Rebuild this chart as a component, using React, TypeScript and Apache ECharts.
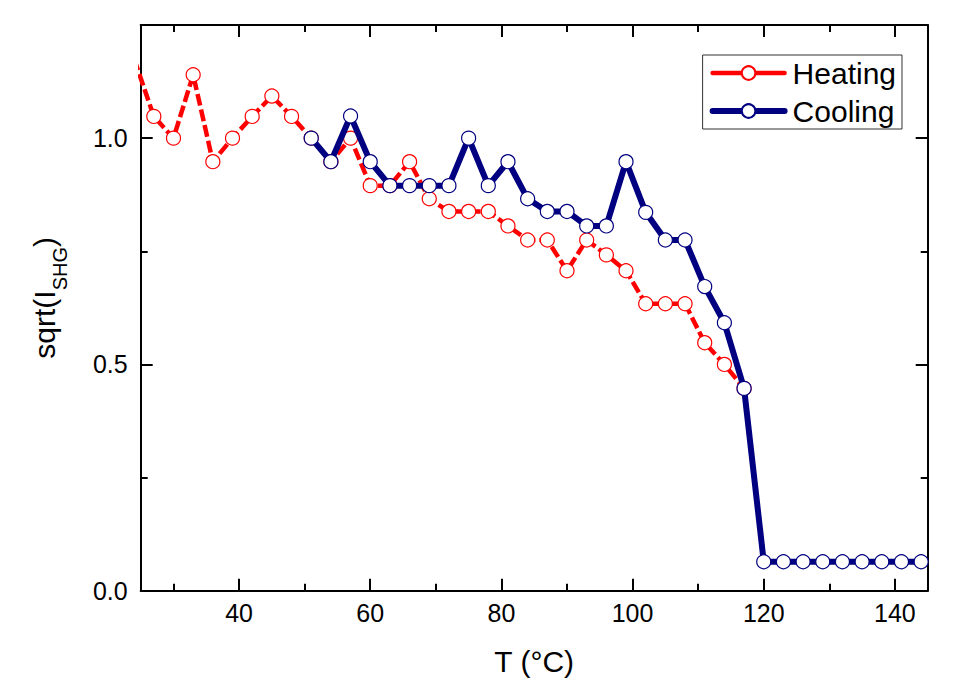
import React, { useEffect, useRef } from 'react';
import * as echarts from 'echarts';

const heatingT = [24, 27, 30, 33, 36, 39, 42, 45, 48, 51, 54, 57, 60, 63, 66, 69, 72, 75, 78, 81, 84, 87, 90, 93, 96, 99, 102, 105, 108, 111, 114, 117];
const heatingV = [1.175, 1.048, 1.0, 1.14, 0.948, 1.0, 1.048, 1.093, 1.048, 1.0, 0.948, 1.0, 0.895, 0.895, 0.948, 0.866, 0.838, 0.838, 0.838, 0.806, 0.775, 0.775, 0.707, 0.775, 0.742, 0.707, 0.634, 0.634, 0.634, 0.548, 0.5, 0.447];

const coolingT = [51, 54, 57, 60, 63, 66, 69, 72, 75, 78, 81, 84, 87, 90, 93, 96, 99, 102, 105, 108, 111, 114, 117, 120, 123, 126, 129, 132, 135, 138, 141, 144];
const coolingV = [1.0, 0.948, 1.049, 0.948, 0.895, 0.895, 0.895, 0.895, 1.0, 0.895, 0.948, 0.866, 0.838, 0.838, 0.806, 0.806, 0.948, 0.836, 0.775, 0.775, 0.672, 0.592, 0.447, 0.064, 0.064, 0.064, 0.064, 0.064, 0.064, 0.064, 0.064, 0.064];

const xMajor = [40, 60, 80, 100, 120, 140];
const xMinor = [30, 50, 70, 90, 110, 130];
const yMajor = [0, 0.5, 1.0];
const yMinor = [0.25, 0.75];

const FONT = 'Liberation Sans';
const RED = '#ff0000';
const NAVY = '#000080';

function xAxisCfg(gridIndex: number, position: string, ticks: number[], len: number, showLine: boolean, showLabel: boolean, name?: string) {
  return {
    type: 'value',
    gridIndex,
    position,
    min: 25,
    max: 145,
    name: name || '',
    nameLocation: 'middle',
    nameGap: 56,
    nameTextStyle: { fontFamily: FONT, fontSize: 30, color: '#000' },
    axisLine: { show: showLine, onZero: false, lineStyle: { color: '#000', width: 2 } },
    axisTick: { show: true, inside: true, length: len, customValues: ticks, lineStyle: { color: '#000', width: 2 } },
    axisLabel: { show: showLabel, customValues: ticks, margin: 10, fontFamily: FONT, fontSize: 25, color: '#000' },
    splitLine: { show: false },
  };
}

function yAxisCfg(gridIndex: number, position: string, ticks: number[], len: number, showLine: boolean, showLabel: boolean, name?: string) {
  return {
    type: 'value',
    gridIndex,
    position,
    min: 0,
    max: 1.25,
    name: name || '',
    nameLocation: 'middle',
    nameGap: 71,
    nameTextStyle: {
      fontFamily: FONT,
      color: '#000',
      padding: [0, 0, 0, 20],
      rich: {
        a: { fontFamily: FONT, fontSize: 30, color: '#000', lineHeight: 30, verticalAlign: 'top' },
        b: { fontFamily: FONT, fontSize: 20, color: '#000', lineHeight: 40, verticalAlign: 'bottom' },
      },
    },
    axisLine: { show: showLine, onZero: false, lineStyle: { color: '#000', width: 2 } },
    axisTick: { show: true, inside: true, length: len, customValues: ticks, lineStyle: { color: '#000', width: 2 } },
    axisLabel: {
      show: showLabel,
      customValues: ticks,
      margin: 13,
      fontFamily: FONT,
      fontSize: 25,
      color: '#000',
      formatter: (v: number) => v.toFixed(1),
    },
    splitLine: { show: false },
  };
}

export default function App() {
  const ref = useRef<HTMLDivElement>(null);
  useEffect(() => {
    document.body.style.margin = '0';
    const chart = echarts.init(ref.current!, null, { renderer: 'svg' });
    const gridPos = { left: 140.7, right: 25.3, top: 25, bottom: 94.3, containLabel: false };
    const option: any = {
      animation: false,
      backgroundColor: '#fff',
      textStyle: { fontFamily: FONT },
      grid: [gridPos, { ...gridPos }],
      xAxis: [
        xAxisCfg(0, 'bottom', xMajor, 12, true, true, 'T (°C)'),
        xAxisCfg(0, 'top', xMajor, 12, true, false),
        xAxisCfg(1, 'bottom', xMinor, 7, false, false),
        xAxisCfg(1, 'top', xMinor, 7, false, false),
      ],
      yAxis: [
        yAxisCfg(0, 'left', yMajor, 12, true, true, '{a|sqrt(I}{b|SHG}{a|)}'),
        yAxisCfg(0, 'right', yMajor, 12, true, false),
        yAxisCfg(1, 'left', yMinor, 7, false, false),
        yAxisCfg(1, 'right', yMinor, 7, false, false),
      ],
      legend: {
        orient: 'vertical',
        right: 51,
        top: 55,
        padding: [3, 6, 3, 7],
        itemGap: 8,
        itemWidth: 72,
        itemHeight: 17,
        borderColor: '#333',
        borderWidth: 1,
        backgroundColor: '#fff',
        textStyle: { fontFamily: FONT, fontSize: 30, color: '#000', lineHeight: 30, padding: [0, 0, 0, 3] },
        data: [
          { name: 'Heating', lineStyle: { width: 4.5, type: 'solid', cap: 'round' } },
          { name: 'Cooling', lineStyle: { width: 6, type: 'solid', cap: 'round' } },
        ],
      },
      series: [
        {
          name: 'Heating',
          type: 'line',
          xAxisIndex: 0,
          yAxisIndex: 0,
          data: heatingT.map((t, i) => [t, heatingV[i]]),
          symbol: 'circle',
          symbolSize: 14,
          clip: true,
          lineStyle: { color: RED, width: 4.5, type: [12, 4] },
          itemStyle: { color: '#fff', borderColor: RED, borderWidth: 1.2 },
          z: 2,
        },
        {
          name: 'Cooling',
          type: 'line',
          xAxisIndex: 0,
          yAxisIndex: 0,
          data: coolingT.map((t, i) => [t, coolingV[i]]),
          symbol: 'circle',
          symbolSize: 14,
          clip: true,
          lineStyle: { color: NAVY, width: 6 },
          itemStyle: { color: '#fff', borderColor: NAVY, borderWidth: 1.2 },
          z: 3,
        },
      ],
    };
    chart.setOption(option);
    return () => chart.dispose();
  }, []);
  return <div ref={ref} style={{ width: 953, height: 685 }} />;
}
